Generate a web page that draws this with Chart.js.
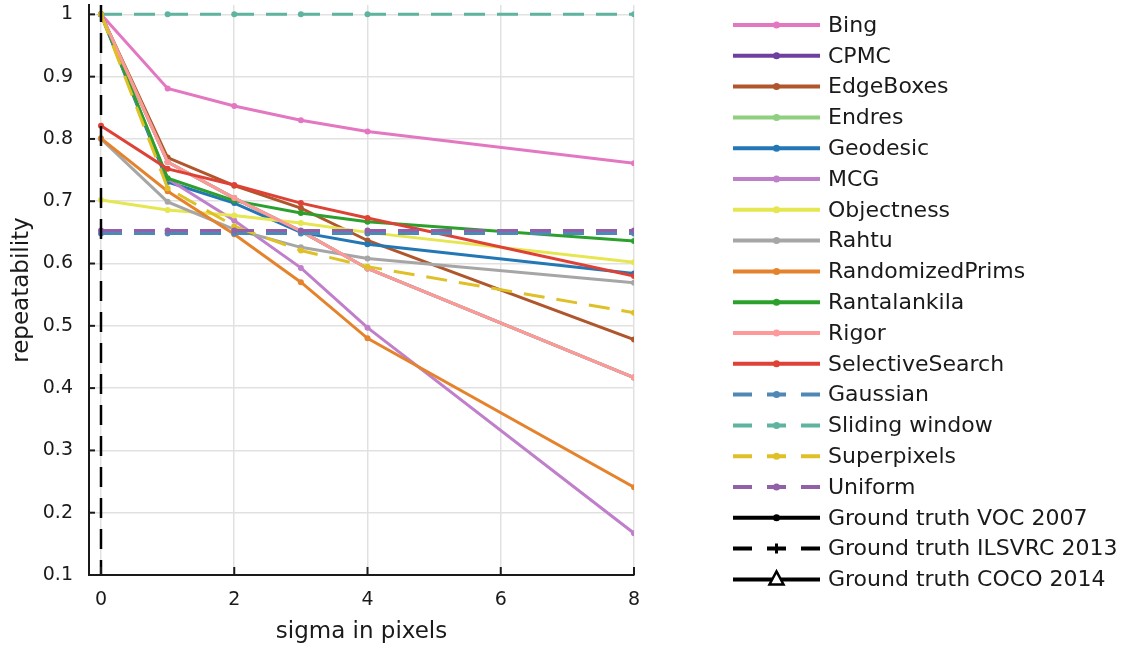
<!DOCTYPE html>
<html>
<head>
<meta charset="utf-8">
<script src="https://cdn.jsdelivr.net/npm/chart.js@4/dist/chart.umd.min.js"></script>
<style>
html,body{margin:0;padding:0;background:#ffffff;}
#wrap{width:1134px;height:650px;}
</style>
</head>
<body>
<div id="wrap"><canvas id="c" width="1134" height="650"></canvas></div>
<script>
// ---- data ----
const sigma = [0, 1, 2, 3, 4, 8];
const xTickValues = [0, 2, 4, 6, 8];
const xTickLabels = ['0', '2', '4', '6', '8'];
const yTickValues = [0.1, 0.2, 0.3, 0.4, 0.5, 0.6, 0.7, 0.8, 0.9, 1.0];
const yTickLabels = ['0.1', '0.2', '0.3', '0.4', '0.5', '0.6', '0.7', '0.8', '0.9', '1'];

const bing            = [1.000, 0.881, 0.853, 0.830, 0.812, 0.761];
const cpmc            = [1.000, 0.763, 0.705, 0.652, 0.592, 0.417];
const edgeBoxes       = [1.000, 0.770, 0.725, 0.689, 0.637, 0.478];
const endres          = [1.000, 0.763, 0.705, 0.652, 0.592, 0.417];
const geodesic        = [1.000, 0.731, 0.697, 0.650, 0.631, 0.584];
const mcg             = [1.000, 0.736, 0.669, 0.593, 0.497, 0.167];
const objectness      = [0.702, 0.686, 0.677, 0.665, 0.650, 0.602];
const rahtu           = [0.800, 0.699, 0.655, 0.626, 0.608, 0.569];
const randomizedPrims = [0.801, 0.716, 0.647, 0.570, 0.480, 0.241];
const rantalankila    = [1.000, 0.737, 0.701, 0.681, 0.667, 0.636];
const rigor           = [1.000, 0.763, 0.705, 0.652, 0.592, 0.417];
const selectiveSearch = [0.821, 0.752, 0.726, 0.697, 0.673, 0.580];
const gaussian        = [0.648, 0.648, 0.648, 0.648, 0.648, 0.648];
const slidingWindow   = [1.000, 1.000, 1.000, 1.000, 1.000, 1.000];
const superpixels     = [1.000, 0.721, 0.660, 0.621, 0.595, 0.521];
const uniform         = [0.653, 0.653, 0.653, 0.653, 0.653, 0.653];
const gtIlsvrcSigma   = [0, 0];
const gtIlsvrcValues  = [1.02, 0.0];

// ---- styles ----
const FONT = 'DejaVu Sans';
const TEXT = '#1a1a1a';

function pts(xs, ys) { return ys.map((v, i) => ({ x: xs[i], y: v })); }

const specs = [
  ['Bing', bing, '#e377c2', false],
  ['CPMC', cpmc, '#6e3f9e', false],
  ['EdgeBoxes', edgeBoxes, '#b0562c', false],
  ['Endres', endres, '#8fcf80', false],
  ['Geodesic', geodesic, '#2277b4', false],
  ['MCG', mcg, '#c07fcb', false],
  ['Objectness', objectness, '#e6e650', false],
  ['Rahtu', rahtu, '#a6a6a6', false],
  ['RandomizedPrims', randomizedPrims, '#e5832d', false],
  ['Rantalankila', rantalankila, '#2ca02c', false],
  ['Rigor', rigor, '#ff9999', false],
  ['SelectiveSearch', selectiveSearch, '#de4236', false],
  ['Gaussian', gaussian, '#4f87b5', true],
  ['Sliding window', slidingWindow, '#5fb49f', true],
  ['Superpixels', superpixels, '#dfc027', true],
  ['Uniform', uniform, '#9060a8', true]
];

const datasets = specs.map((s, i) => ({
  label: s[0],
  data: pts(sigma, s[1]),
  borderColor: s[2],
  backgroundColor: s[2],
  pointBackgroundColor: s[2],
  pointBorderColor: s[2],
  borderWidth: 3,
  borderDash: s[3] ? [21, 12] : [],
  pointRadius: 3,
  pointBorderWidth: 0,
  pointHoverRadius: 0,
  pointStyle: 'circle',
  tension: 0,
  fill: false
}));
datasets.push({
  label: 'Ground truth VOC 2007', data: [], borderColor: '#000', backgroundColor: '#000',
  borderWidth: 3, borderDash: [], pointRadius: 0, pointStyle: 'circle', fill: false
});
datasets.push({
  label: 'Ground truth ILSVRC 2013', data: pts(gtIlsvrcSigma, gtIlsvrcValues), borderColor: '#000', backgroundColor: '#000',
  borderWidth: 2.5, borderDash: [20, 11], pointRadius: 0, pointStyle: 'cross', fill: false
});
datasets.push({
  label: 'Ground truth COCO 2014', data: [], borderColor: '#000', backgroundColor: '#000',
  borderWidth: 3, borderDash: [], pointRadius: 0, pointStyle: 'triangle', fill: false
});
const N = datasets.length;
datasets.forEach((d, i) => { d.order = N - i; });

// legend drawn at the right, one row per dataset
const sideLegend = {
  id: 'sideLegend',
  afterDraw(chart) {
    const ctx = chart.ctx;
    const x0 = chart.chartArea.right + 99, x1 = x0 + 87, xm = (x0 + x1) / 2, tx = x1 + 8;
    const top = 25, step = 30.8;
    chart.data.datasets.forEach((ds, i) => {
      const y = top + i * step;
      ctx.save();
      ctx.strokeStyle = ds.borderColor;
      ctx.fillStyle = ds.borderColor;
      ctx.lineWidth = 4;
      ctx.setLineDash(ds.borderDash && ds.borderDash.length ? [19, 15] : []);
      ctx.beginPath(); ctx.moveTo(x0, y); ctx.lineTo(x1, y); ctx.stroke();
      ctx.setLineDash([]);
      if (ds.pointStyle === 'cross') {
        ctx.lineWidth = 3;
        ctx.beginPath(); ctx.moveTo(xm - 5, y); ctx.lineTo(xm + 5, y);
        ctx.moveTo(xm, y - 5); ctx.lineTo(xm, y + 5); ctx.stroke();
      } else if (ds.pointStyle === 'triangle') {
        ctx.lineWidth = 2.5;
        ctx.fillStyle = '#fff';
        ctx.beginPath(); ctx.moveTo(xm, y - 8); ctx.lineTo(xm + 7, y + 5); ctx.lineTo(xm - 7, y + 5); ctx.closePath();
        ctx.fill(); ctx.stroke();
      } else {
        ctx.beginPath(); ctx.arc(xm, y, 3.5, 0, Math.PI * 2); ctx.fill();
      }
      ctx.fillStyle = TEXT;
      ctx.font = '22px "' + FONT + '"';
      ctx.textBaseline = 'middle';
      ctx.textAlign = 'left';
      ctx.fillText(ds.label, tx, y + 1);
      ctx.restore();
    });
  }
};

// inward tick marks on the axes
const innerTicks = {
  id: 'innerTicks',
  afterDraw(chart) {
    const ctx = chart.ctx, a = chart.chartArea;
    const xs = chart.scales.x, ys = chart.scales.y;
    ctx.save();
    ctx.strokeStyle = '#1a1a1a';
    ctx.lineWidth = 2;
    ys.ticks.forEach(t => {
      const py = ys.getPixelForValue(t.value);
      ctx.beginPath(); ctx.moveTo(a.left, py); ctx.lineTo(a.left + 6, py); ctx.stroke();
    });
    xs.ticks.forEach(t => {
      const px = xs.getPixelForValue(t.value);
      ctx.beginPath(); ctx.moveTo(px, a.bottom); ctx.lineTo(px, a.bottom - 8); ctx.stroke();
    });
    ctx.restore();
  }
};

new Chart(document.getElementById('c'), {
  type: 'line',
  data: { datasets },
  options: {
    responsive: false,
    animation: false,
    events: [],
    layout: { padding: { top: 5, right: 500, left: 0, bottom: 0 } },
    plugins: { legend: { display: false }, tooltip: { enabled: false } },
    scales: {
      x: {
        type: 'linear', min: -0.18, max: 8,
        afterBuildTicks: s => { s.ticks = xTickValues.map(v => ({ value: v })); },
        afterFit: s => { s.height = 75; s.paddingLeft = 0; s.paddingRight = 0; },
        grid: { color: '#e1e1e1', lineWidth: 1.5, drawTicks: false },
        border: { display: true, color: '#1a1a1a', width: 2 },
        ticks: {
          padding: 14, color: TEXT, font: { family: FONT, size: 19 }, maxRotation: 0, autoSkip: false,
          callback: (v) => xTickLabels[xTickValues.indexOf(v)]
        },
        title: { display: true, text: 'sigma in pixels', color: TEXT, font: { family: FONT, size: 23 }, padding: { top: 0, bottom: 4 } }
      },
      y: {
        type: 'linear', min: 0.1, max: 1.015,
        afterBuildTicks: s => { s.ticks = yTickValues.map(v => ({ value: v })); },
        afterFit: s => { s.width = 89; s.paddingTop = 0; s.paddingBottom = 0; },
        grid: { color: '#e1e1e1', lineWidth: 1.5, drawTicks: false },
        border: { display: true, color: '#1a1a1a', width: 2 },
        ticks: {
          padding: 16, color: TEXT, font: { family: FONT, size: 19 }, autoSkip: false,
          callback: (v) => { const k = yTickValues.findIndex(t => Math.abs(t - v) < 1e-6); return k >= 0 ? yTickLabels[k] : ''; }
        },
        title: { display: true, text: 'repeatability', color: TEXT, font: { family: FONT, size: 23 }, padding: { top: 8, bottom: 0 } }
      }
    }
  },
  plugins: [sideLegend, innerTicks]
});
</script>
</body>
</html>
